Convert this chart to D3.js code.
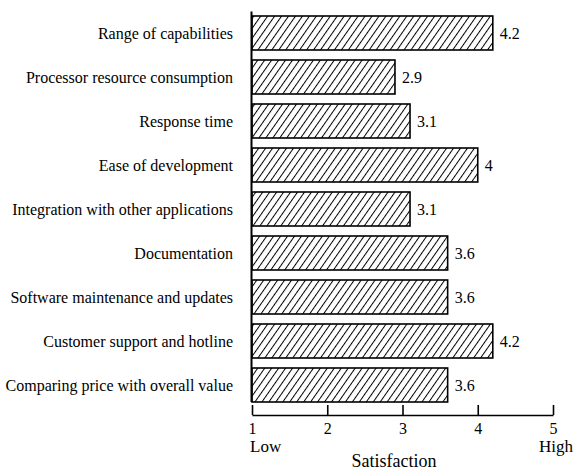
<!DOCTYPE html>
<html>
<head>
<meta charset="utf-8">
<script src="https://cdn.jsdelivr.net/npm/d3@7"></script>
<style>
    body { margin: 0; background: #fff; }
    svg, svg text { font-family: "Liberation Serif", Tinos, "Times New Roman", Times, "DejaVu Serif", serif; }
    svg text { fill: #000; }
</style>
</head>
<body>
<div id="chart"></div>
<script>
// Chart data
const categories = [
    'Range of capabilities',
    'Processor resource consumption',
    'Response time',
    'Ease of development',
    'Integration with other applications',
    'Documentation',
    'Software maintenance and updates',
    'Customer support and hotline',
    'Comparing price with overall value'
];
const satisfaction = [4.2, 2.9, 3.1, 4, 3.1, 3.6, 3.6, 4.2, 3.6];
const tickValues = [1, 2, 3, 4, 5];
const scaleEnds = ['Low', 'High'];

const serif = '"Liberation Serif", Tinos, "Times New Roman", Times, "DejaVu Serif", serif';
const data = categories.map((c, i) => ({ name: c, value: satisfaction[i] }));

const width = 576, height = 471;

const svg = d3.select('#chart')
    .append('svg')
    .attr('width', width)
    .attr('height', height)
    .attr('font-family', serif);

// Hatch pattern for the bars
const pattern = svg.append('defs')
    .append('pattern')
    .attr('id', 'hatch')
    .attr('patternUnits', 'userSpaceOnUse')
    .attr('width', 5.7)
    .attr('height', 10)
    .attr('patternTransform', 'rotate(35)');
pattern.append('rect')
    .attr('width', 5.7).attr('height', 10)
    .attr('fill', '#fff');
pattern.append('line')
    .attr('x1', 0.5).attr('y1', 0)
    .attr('x2', 0.5).attr('y2', 10)
    .attr('stroke', '#000')
    .attr('stroke-width', 1);

const x = d3.scaleLinear()
    .domain([1, 5])
    .range([252, 553]);

const y = d3.scaleBand()
    .domain(categories)
    .range([11.6, 406.4])
    .paddingInner(10 / 44)
    .paddingOuter(0.1);

// Bars
svg.selectAll('.bar')
    .data(data)
    .enter()
    .append('rect')
    .attr('class', 'bar')
    .attr('x', x(1))
    .attr('y', d => y(d.name))
    .attr('width', d => x(d.value) - x(1))
    .attr('height', y.bandwidth())
    .attr('fill', 'url(#hatch)')
    .attr('stroke', '#000')
    .attr('stroke-width', 1.6);

// Vertical axis line
svg.append('line')
    .attr('x1', x(1) - 0.5).attr('x2', x(1) - 0.5)
    .attr('y1', y.range()[0]).attr('y2', y(categories[categories.length - 1]) + y.bandwidth())
    .attr('stroke', '#000')
    .attr('stroke-width', 2);

// Category labels
svg.selectAll('.cat-label')
    .data(data)
    .enter()
    .append('text')
    .attr('class', 'cat-label')
    .attr('x', 233)
    .attr('y', d => y(d.name) + y.bandwidth() / 2)
    .attr('dy', '0.35em')
    .attr('text-anchor', 'end')
    .style('font-size', '16px')
    .text(d => d.name);

// Value labels
svg.selectAll('.val-label')
    .data(data)
    .enter()
    .append('text')
    .attr('class', 'val-label')
    .attr('x', d => x(d.value) + 7)
    .attr('y', d => y(d.name) + y.bandwidth() / 2)
    .attr('dy', '0.35em')
    .style('font-size', '16px')
    .text(d => d.value);

// Bottom axis, ticks pointing up
const xAxis = svg.append('g')
    .attr('transform', 'translate(0,415)')
    .call(d3.axisBottom(x)
        .tickValues(tickValues)
        .tickFormat(d3.format('d'))
        .tickSizeInner(-10)
        .tickSizeOuter(0)
        .tickPadding(8));
xAxis.attr('font-family', serif);
xAxis.select('.domain').attr('stroke-width', 1.6);
xAxis.selectAll('.tick line').attr('stroke-width', 1.6);
xAxis.selectAll('.tick text')
    .style('font-size', '16px');

// Low / High
svg.append('text')
    .attr('x', x(1) - 2)
    .attr('y', 452)
    .style('font-size', '17px')
    .text(scaleEnds[0]);
svg.append('text')
    .attr('x', 573)
    .attr('y', 452)
    .attr('text-anchor', 'end')
    .style('font-size', '17px')
    .text(scaleEnds[1]);

// Axis title
svg.append('text')
    .attr('x', 394)
    .attr('y', 467)
    .attr('text-anchor', 'middle')
    .style('font-size', '18px')
    .text('Satisfaction');
</script>
</body>
</html>
